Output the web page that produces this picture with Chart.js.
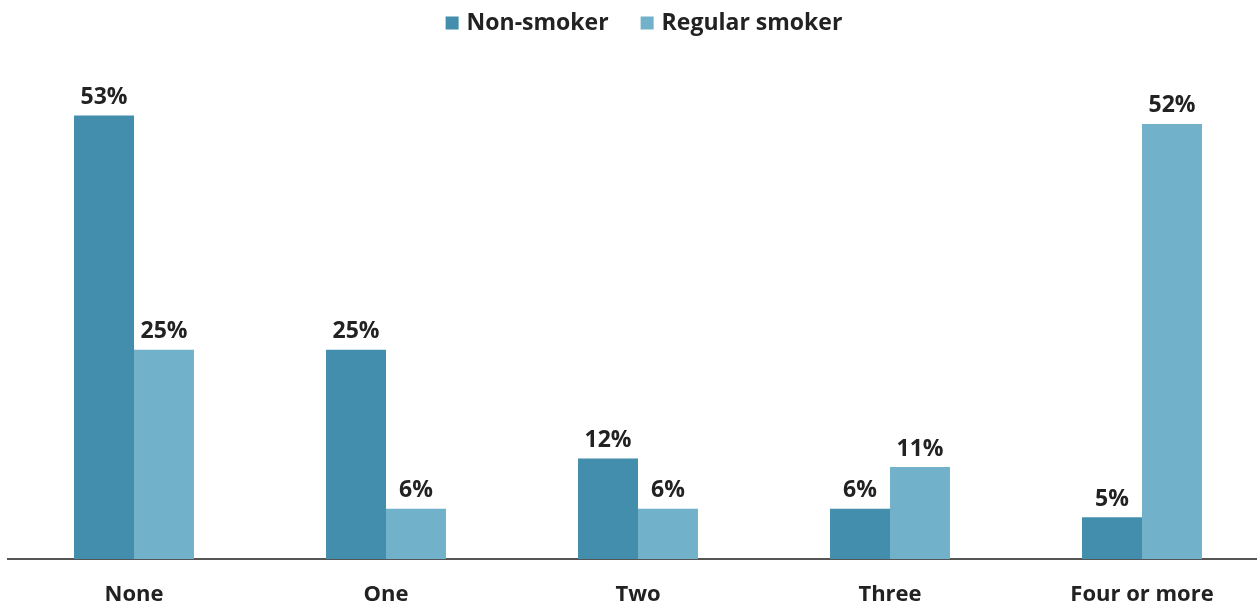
<!DOCTYPE html>
<html>
<head>
<meta charset="utf-8">
<script src="https://cdn.jsdelivr.net/npm/chart.js@4"></script>
<style>
  html, body { margin: 0; padding: 0; background: #fff; overflow: hidden; }
  #wrap { width: 1268px; height: 606px; position: relative; }
</style>
</head>
<body>
<div id="wrap"><canvas id="myChart"></canvas></div>
<script>
const categories = ['None', 'One', 'Two', 'Three', 'Four or more'];
const nonSmoker = [53, 25, 12, 6, 5];
const regularSmoker = [25, 6, 6, 11, 52];

const FONT = '"Open Sans", "Noto Sans", sans-serif';

// percentage above each bar
const barLabels = {
  id: 'barLabels',
  afterDatasetsDraw(chart) {
    const c = chart.ctx;
    c.save();
    c.font = 'bold 23px ' + FONT;
    c.fillStyle = '#222';
    c.textAlign = 'center';
    c.textBaseline = 'middle';
    chart.data.datasets.forEach((ds, i) => {
      chart.getDatasetMeta(i).data.forEach((bar, j) => {
        c.fillText(ds.data[j] + '%', bar.x, bar.y - 18);
      });
    });
    c.restore();
  }
};

// simple legend at the top
const topLegend = {
  id: 'topLegend',
  afterDraw(chart) {
    const c = chart.ctx;
    const box = 13, gapBox = 8, gapItem = 32;
    c.save();
    c.font = 'bold 23px ' + FONT;
    c.textBaseline = 'middle';
    c.textAlign = 'left';
    const items = chart.data.datasets.map(ds => ({
      label: ds.label, color: ds.backgroundColor, w: c.measureText(ds.label).width
    }));
    let total = 0;
    items.forEach((it, i) => { total += box + gapBox + it.w + (i ? gapItem : 0); });
    const ca = chart.chartArea;
    let x = (ca.left + ca.right) / 2 - total / 2 + 6;
    const y = 23;
    items.forEach(it => {
      c.fillStyle = it.color;
      c.fillRect(x, y - box / 2, box, box);
      x += box + gapBox;
      c.fillStyle = '#222';
      c.fillText(it.label, x, y);
      x += it.w + gapItem;
    });
    c.restore();
  }
};

new Chart(document.getElementById('myChart'), {
  type: 'bar',
  data: {
    labels: categories,
    datasets: [{
      label: 'Non-smoker',
      data: nonSmoker,
      backgroundColor: '#438eac'
    }, {
      label: 'Regular smoker',
      data: regularSmoker,
      backgroundColor: '#72b1ca'
    }]
  },
  plugins: [barLabels, topLegend],
  options: {
    responsive: true,
    maintainAspectRatio: false,
    animation: false,
    categoryPercentage: 0.476,
    barPercentage: 1,
    layout: { padding: { left: 8, right: 0, top: 57, bottom: 0 } },
    plugins: {
      tooltip: { enabled: false },
      legend: { display: false }
    },
    scales: {
      x: {
        grid: { display: false, drawTicks: false },
        border: { display: true, color: '#555', width: 2 },
        ticks: {
          padding: 23,
          color: '#222',
          font: { family: FONT, size: 22, weight: 'bold' }
        },
        afterFit(scale) { scale.height = 47; }
      },
      y: {
        display: false,
        min: 0,
        max: 60
      }
    }
  }
});
</script>
</body>
</html>
